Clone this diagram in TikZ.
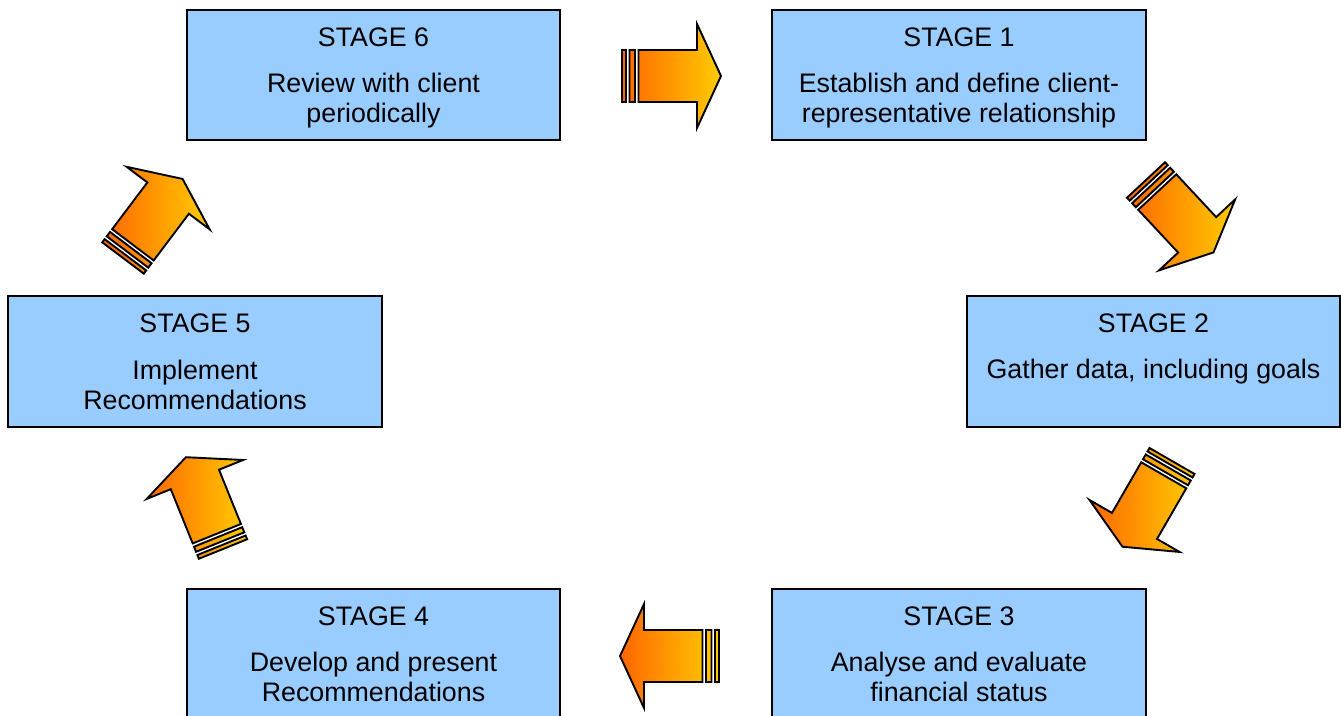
\documentclass[tikz,border=0pt]{standalone}
\usepackage{fontspec}
\setmainfont{Liberation Sans}
\usetikzlibrary{calc}
\definecolor{boxblue}{HTML}{99CCFF}
\definecolor{arrowL}{HTML}{FF6600}
\definecolor{arrowR}{HTML}{FFCC00}
\tikzset{
  stagebox/.style={draw=black, fill=boxblue, line width=1.4pt, inner sep=0pt, outer sep=0pt},
  txt/.style={anchor=base, inner sep=0pt, font=\fontsize{26.8}{32}\selectfont},
  arrowstyle/.style={draw=black, line width=1.9pt, line join=miter, left color=arrowL, right color=arrowR}
}
\newcommand\AP[3]{($(#1)+(\aa:#2)+(\aa+90:#3)$)}
\newcommand\stagearrow[3]{%
  \coordinate (#1) at (#2);
  \def\aa{#3}%
  \path[arrowstyle]
    \AP{#1}{0}{-26} -- \AP{#1}{4}{-26} -- \AP{#1}{4}{26} -- \AP{#1}{0}{26} -- cycle
    \AP{#1}{7.5}{-26} -- \AP{#1}{13}{-26} -- \AP{#1}{13}{26} -- \AP{#1}{7.5}{26} -- cycle
    \AP{#1}{16.5}{-26} -- \AP{#1}{75}{-26} -- \AP{#1}{75}{-52} -- \AP{#1}{99}{0}
      -- \AP{#1}{75}{52} -- \AP{#1}{75}{26} -- \AP{#1}{16.5}{26} -- cycle;
}
\newcommand\stage[6]{%
  \node[stagebox, minimum width=#4pt, minimum height=#5pt, anchor=north west] (#1) at (#2,715-#3) {};
  \node[txt] (#1t) at ($(#1.north)+(0,-36.6)$) {#6};
}
\begin{document}
\begin{tikzpicture}[x=1pt,y=1pt]
  \useasboundingbox (0,0) rectangle (1341,715);
  % boxes
  \stage{s6}{187}{10}{373}{130}{STAGE 6}
  \node[txt] (s6a) at ($(s6.north)+(0,-82.6)$) {Review with client};
  \node[txt] (s6b) at ($(s6.north)+(0,-112.6)$) {periodically};
  \stage{s1}{772}{10}{374}{130}{STAGE 1}
  \node[txt] (s1a) at ($(s1.north)+(0,-82.6)$) {Establish and define client-};
  \node[txt] (s1b) at ($(s1.north)+(0,-112.6)$) {representative relationship};
  \stage{s2}{967}{296}{373}{131}{STAGE 2}
  \node[txt] (s2a) at ($(s2.north)+(0,-82.6)$) {Gather data, including goals};
  \stage{s5}{8}{296}{374}{131}{STAGE 5}
  \node[txt] (s5a) at ($(s5.north)+(0,-83.6)$) {Implement};
  \node[txt] (s5b) at ($(s5.north)+(0,-113.6)$) {Recommendations};
  \stage{s4}{187}{589}{373}{140}{STAGE 4}
  \node[txt] (s4a) at ($(s4.north)+(0,-82.6)$) {Develop and present};
  \node[txt] (s4b) at ($(s4.north)+(0,-112.6)$) {Recommendations};
  \stage{s3}{772}{589}{374}{140}{STAGE 3}
  \node[txt] (s3a) at ($(s3.north)+(0,-82.6)$) {Analyse and evaluate};
  \node[txt] (s3b) at ($(s3.north)+(0,-112.6)$) {financial status};
  % arrows
  \stagearrow{a1}{622,639}{0}
  \stagearrow{a2}{1146,535}{-47}
  \stagearrow{a3}{1172,254}{240}
  \stagearrow{a4}{719,59}{180}
  \stagearrow{a5}{223,166}{112}
  \stagearrow{a6}{123,457}{53}
\end{tikzpicture}
\end{document}
